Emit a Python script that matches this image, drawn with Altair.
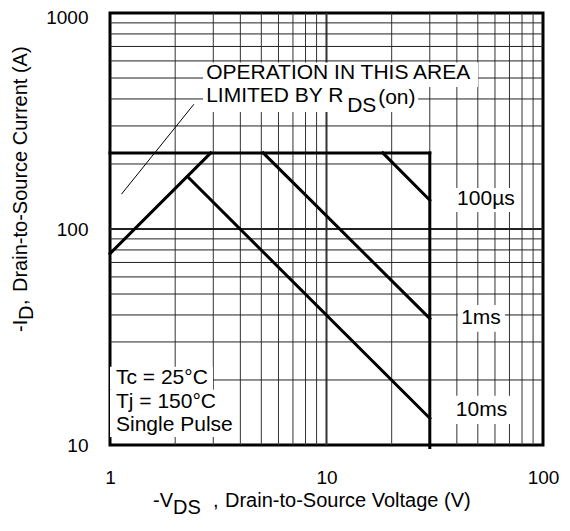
import altair as alt
import pandas as pd

FONT = "Liberation Sans"

# ---------------- data (V in volts, I in amps) ----------------
seg_names = ["limit", "rds", "10ms", "1ms", "100us", "vmax"]
seg_v = [[1, 30], [1, 2.92], [2.28, 30], [5.1, 30], [18.2, 30], [30, 30]]
seg_i = [[225, 225], [77, 225], [175, 13.3], [225, 38.5], [225, 136], [225, 9.75]]

grid_v_minor = [2, 3, 4, 5, 6, 7, 8, 9, 20, 30, 40, 50, 60, 70, 80, 90]
grid_v_major = [10]
grid_i_minor = [20, 30, 40, 50, 60, 70, 80, 90, 200, 300, 400, 500, 600, 700, 800, 900]
grid_i_major = [100]

x_ticks = [1, 10, 100]
y_ticks = [10, 100, 1000]

# annotation texts (anchor V, anchor I, text, dx, dy)
ann_text = ["OPERATION IN THIS AREA", "LIMITED BY R", "DS", "(on)"]
ann_v = [2.78, 2.78, 2.78, 2.78]
ann_i = [525, 415, 415, 415]
ann_dx = [0, 0, 141, 172]
ann_dy = [0, 0, 10, 2]

pulse_text = ["100µs", "1ms", "10ms"]
pulse_v = [54.5, 51.7, 52.0]
pulse_i = [137.7, 38.7, 14.5]

cond_text = ["Tc = 25°C", "Tj = 150°C", "Single Pulse"]
cond_v = [1.066, 1.066, 1.066]
cond_i = [20.4, 15.8, 12.4]

# white label backgrounds (v1, v2, i1, i2)
box_v1 = [2.69, 2.69, 37.2, 40.5, 38.0, 1.0, 1.0, 1.0]
box_v2 = [50.1, 26.5, 79.1, 66.7, 71.9, 2.99, 3.19, 3.82]
box_i1 = [590, 454, 155, 44.5, 16.9, 23.0, 18.0, 13.9]
box_i2 = [454, 348, 120, 33.4, 12.5, 18.0, 13.9, 10.9]

# leader line
lead_v = [1.13, 2.44]
lead_i = [145, 378]

# ---------------- tables ----------------
rows = []
for n, vs, is_ in zip(seg_names, seg_v, seg_i):
    for k, (v, i) in enumerate(zip(vs, is_)):
        rows.append({"seg": n, "ord": k, "v": v, "i": i})
curves = pd.DataFrame(rows)

vgrid = pd.DataFrame({"v": grid_v_minor + grid_v_major,
                      "w": [1] * len(grid_v_minor) + [2] * len(grid_v_major)})
hgrid = pd.DataFrame({"i": grid_i_minor + grid_i_major,
                      "w": [1] * len(grid_i_minor) + [2] * len(grid_i_major)})
boxes = pd.DataFrame({"v1": box_v1, "v2": box_v2, "i1": box_i1, "i2": box_i2})

xs = alt.Scale(type="log", domain=[1, 100], nice=False)
ys = alt.Scale(type="log", domain=[10, 1000], nice=False)

axis_x = alt.Axis(values=x_ticks, title=None, grid=False, ticks=False, tickSize=0,
                  domain=False, labelFont=FONT, labelFontSize=19, labelColor="black",
                  labelPadding=23, labelFlush=False, labelExpr="datum.value + ''")
axis_y = alt.Axis(values=y_ticks, title=None, grid=False, ticks=False, tickSize=0,
                  domain=False, labelFont=FONT, labelFontSize=19, labelColor="black",
                  labelPadding=22, labelExpr="datum.value + ''",
                  labelOffset={"condition": {"test": "datum.value >= 1000", "value": 4},
                               "value": 0})

vg = alt.Chart(vgrid).mark_rule(color="#333").encode(
    x=alt.X("v:Q", scale=xs, axis=axis_x),
    strokeWidth=alt.StrokeWidth("w:Q", scale=None),
)
hg = alt.Chart(hgrid).mark_rule(color="#222").encode(
    y=alt.Y("i:Q", scale=ys, axis=axis_y),
    strokeWidth=alt.StrokeWidth("w:Q", scale=None),
)

bx = alt.Chart(boxes).mark_rect(color="white").encode(
    x=alt.X("v1:Q", scale=xs, axis=axis_x), x2="v2:Q",
    y=alt.Y("i1:Q", scale=ys, axis=axis_y), y2="i2:Q",
)

lines = alt.Chart(curves).mark_line(color="black", strokeWidth=3, strokeCap="square").encode(
    x=alt.X("v:Q", scale=xs, axis=axis_x),
    y=alt.Y("i:Q", scale=ys, axis=axis_y),
    detail="seg:N", order="ord:Q",
)

lead = alt.Chart(pd.DataFrame({"v": [lead_v[0]], "v2": [lead_v[1]],
                               "i": [lead_i[0]], "i2": [lead_i[1]]})).mark_rule(
    color="black", strokeWidth=1).encode(
    x=alt.X("v:Q", scale=xs, axis=axis_x), x2="v2:Q",
    y=alt.Y("i:Q", scale=ys, axis=axis_y), y2="i2:Q",
)

ann_layers = []
for t, v, i, dx, dy in zip(ann_text, ann_v, ann_i, ann_dx, ann_dy):
    ann_layers.append(
        alt.Chart(pd.DataFrame({"v": [v], "i": [i], "t": [t]})).mark_text(
            align="left", baseline="middle", font=FONT, fontSize=21, color="black",
            dx=dx, dy=dy).encode(
            x=alt.X("v:Q", scale=xs, axis=axis_x),
            y=alt.Y("i:Q", scale=ys, axis=axis_y),
            text="t:N")
    )

pulse = alt.Chart(pd.DataFrame({"v": pulse_v, "i": pulse_i, "t": pulse_text})).mark_text(
    align="center", baseline="middle", font=FONT, fontSize=21, color="black").encode(
    x=alt.X("v:Q", scale=xs, axis=axis_x),
    y=alt.Y("i:Q", scale=ys, axis=axis_y),
    text="t:N")

cond = alt.Chart(pd.DataFrame({"v": cond_v, "i": cond_i, "t": cond_text})).mark_text(
    align="left", baseline="middle", font=FONT, fontSize=21, color="black").encode(
    x=alt.X("v:Q", scale=xs, axis=axis_x),
    y=alt.Y("i:Q", scale=ys, axis=axis_y),
    text="t:N")

# axis titles built from pieces (for subscripts and spacing)
xt_text = ["-V", "DS", ",", "Drain-to-Source Voltage (V)"]
xt_x = [43, 63, 103, 115]
xt_y = [494, 501, 494, 494]
yt_text = ["-I", "D", ",", "Drain-to-Source Current (A)"]
yt_x = [-83, -77, -83, -83]
yt_y = [319, 307, 292, 279]

title_layers = []
for t, x, y in zip(xt_text, xt_x, xt_y):
    title_layers.append(
        alt.Chart(pd.DataFrame({"t": [t]})).mark_text(
            align="left", baseline="alphabetic", font=FONT, fontSize=20, color="black").encode(
            x=alt.value(x), y=alt.value(y), text="t:N"))
for t, x, y in zip(yt_text, yt_x, yt_y):
    title_layers.append(
        alt.Chart(pd.DataFrame({"t": [t]})).mark_text(
            align="left", baseline="alphabetic", font=FONT, fontSize=20, color="black",
            angle=270).encode(
            x=alt.value(x), y=alt.value(y), text="t:N"))

chart = alt.layer(vg, hg, bx, lines, lead, *ann_layers, pulse, cond, *title_layers).properties(
    width=433, height=432,
    background="white",
    autosize=alt.AutoSizeParams(type="none"),
    padding={"left": 102, "top": 5, "right": 19, "bottom": 78},
).configure_view(stroke="black", strokeWidth=3)

chart.save("out.html", embed_options={"renderer": "svg", "actions": False})
